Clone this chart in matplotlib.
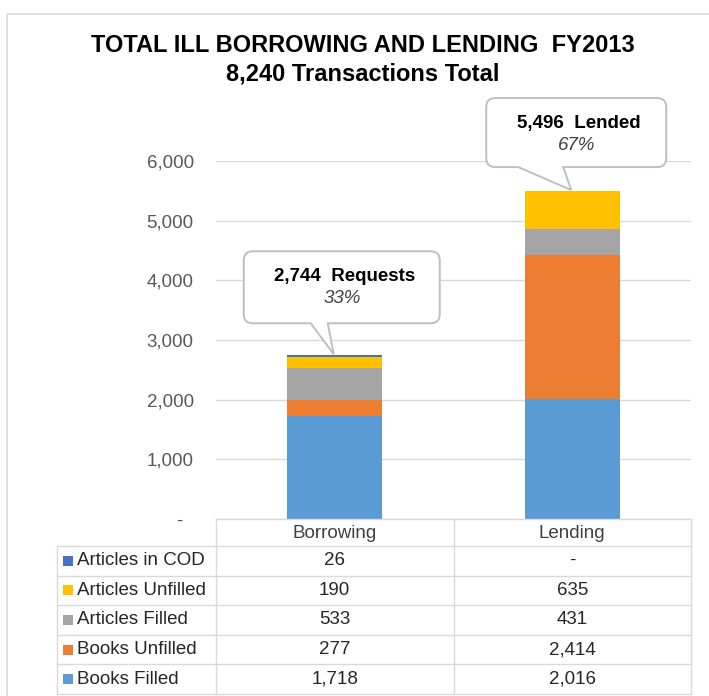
import matplotlib
matplotlib.use("Agg")
import matplotlib.pyplot as plt
from matplotlib.path import Path
from matplotlib.patches import PathPatch, Rectangle
from matplotlib.lines import Line2D
from matplotlib.ticker import FuncFormatter

# ---- data ----
categories = ["Borrowing", "Lending"]
series_names = ["Books Filled", "Books Unfilled", "Articles Filled",
                "Articles Unfilled", "Articles in COD"]
books_filled = [1718, 2016]
books_unfilled = [277, 2414]
articles_filled = [533, 431]
articles_unfilled = [190, 635]
articles_cod = [26, 0]
series_colors = ["#5B9BD5", "#ED7D31", "#A5A5A5", "#FFC000", "#4472C4"]
callout_words = ["Requests", "Lended"]
y_ticks = [0, 1000, 2000, 3000, 4000, 5000, 6000]
title_text = "TOTAL ILL BORROWING AND LENDING  FY2013"

series_values = [books_filled, books_unfilled, articles_filled,
                 articles_unfilled, articles_cod]
totals = [sum(s[i] for s in series_values) for i in range(len(categories))]
grand_total = sum(totals)

plt.rcParams["font.family"] = ["Liberation Sans", "DejaVu Sans"]

W, H = 709, 696
fig = plt.figure(figsize=(W / 100, H / 100), dpi=100)
fig.patch.set_facecolor("white")


def fx(px):
    return px / W


def fy(py):
    return 1 - py / H


# ---- plot area ----
ax = fig.add_axes([fx(216), fy(519), fx(691) - fx(216), fy(161) - fy(519)])
ax.set_xlim(-0.5, len(categories) - 0.5)
ax.set_ylim(0, 6000)
xs = list(range(len(categories)))
bottom = [0] * len(categories)
for vals, col in zip(series_values, series_colors):
    ax.bar(xs, vals, width=0.4, bottom=bottom, color=col, edgecolor="none",
           zorder=3)
    bottom = [b + v for b, v in zip(bottom, vals)]

ax.set_yticks(y_ticks)
ax.yaxis.set_major_formatter(
    FuncFormatter(lambda v, p: "-  " if v == 0 else f"{int(v):,}"))
ax.yaxis.grid(True, color="#D9D9D9", lw=1)
ax.set_axisbelow(True)
ax.set_xticks([])
ax.tick_params(axis="y", length=0, pad=16, labelsize=13.5,
               labelcolor="#595959")
for s in ax.spines.values():
    s.set_visible(False)

# ---- overlay in pixel coordinates (y downward) ----
ov = fig.add_axes([0, 0, 1, 1])
ov.set_xlim(0, W)
ov.set_ylim(H, 0)
ov.axis("off")

# outer frame
ov.add_patch(Rectangle((7, 14), W + 20, H + 20, fill=False,
                       edgecolor="#D9D9D9", lw=1.2, clip_on=False))

# title
ov.text(363, 46, title_text, ha="center", va="center", fontsize=17,
        fontweight="bold", color="black")
ov.text(363, 74, f"{grand_total:,} Transactions Total", ha="center",
        va="center", fontsize=17, fontweight="bold", color="black")


def to_px(x, y):
    dx, dy = ax.transData.transform((x, y))
    return dx, H - dy


# ---- data table ----
grid_col = "#D9D9D9"
col_edges = [to_px(v, 0)[0] for v in (-0.5, 0.5, 1.5)]
tab_left = 57
header_top, header_bot = 519, 546
row_h = (694 - header_bot) / 5


def hline(y, x0, x1):
    ov.add_line(Line2D([x0, x1], [y, y], color=grid_col, lw=1))


def vline(x, y0, y1):
    ov.add_line(Line2D([x, x], [y0, y1], color=grid_col, lw=1))


hline(header_top, col_edges[0], col_edges[-1])
for xe in col_edges:
    vline(xe, header_top, 694)
vline(tab_left, header_bot, 694)
for i in range(6):
    hline(header_bot + i * row_h, tab_left, col_edges[-1])

for i, cat in enumerate(categories):
    cx = (col_edges[i] + col_edges[i + 1]) / 2
    ov.text(cx, (header_top + header_bot) / 2 + 1, cat, ha="center",
            va="center", fontsize=13.5, color="#404040")

rows = list(zip(series_names, series_values, series_colors))[::-1]
for r, (name, vals, col) in enumerate(rows):
    cy = header_bot + (r + 0.5) * row_h
    ov.add_patch(Rectangle((63, cy - 5), 10, 10, facecolor=col,
                           edgecolor="none"))
    ov.text(77, cy, name, ha="left", va="center", fontsize=13.5,
            color="#262626")
    for i, v in enumerate(vals):
        cx = (col_edges[i] + col_edges[i + 1]) / 2
        ov.text(cx, cy, f"{v:,}" if v else "-", ha="center", va="center",
                fontsize=13.5, color="#262626")


# ---- callouts ----
def callout(tip, left, right, top, bot, tl, tr, r=9):
    verts = [(left + r, top), (right - r, top),
             (right, top), (right, top + r),
             (right, bot - r),
             (right, bot), (right - r, bot),
             (tr, bot), tip, (tl, bot),
             (left + r, bot),
             (left, bot), (left, bot - r),
             (left, top + r),
             (left, top), (left + r, top),
             (left + r, top)]
    codes = [Path.MOVETO, Path.LINETO,
             Path.CURVE3, Path.CURVE3,
             Path.LINETO,
             Path.CURVE3, Path.CURVE3,
             Path.LINETO, Path.LINETO, Path.LINETO,
             Path.LINETO,
             Path.CURVE3, Path.CURVE3,
             Path.LINETO,
             Path.CURVE3, Path.CURVE3,
             Path.CLOSEPOLY]
    ov.add_patch(PathPatch(Path(verts, codes), facecolor="white",
                           edgecolor="#BFBFBF", lw=1.4, zorder=5))


# box geometry relative to the tip: left, right, top, bottom, tail left, tail right
callout_geom = [(-90, 106, -103, -31, -23, -6),
                (-85, 95, -92, -23, -53, -8)]
for i, (g, word) in enumerate(zip(callout_geom, callout_words)):
    tx, ty = to_px(xs[i], totals[i])
    tx -= 1
    ty -= 1
    left, right, top, bot = tx + g[0], tx + g[1], ty + g[2], ty + g[3]
    callout((tx, ty), left, right, top, bot, tx + g[4], tx + g[5])
    cx = (left + right) / 2
    ov.text(cx + 3, top + 25, f"{totals[i]:,}  {word}", ha="center",
            va="center", fontsize=13.5, fontweight="bold", color="black",
            zorder=6)
    ov.text(cx, top + 47, f"{totals[i] / grand_total:.0%}", ha="center",
            va="center", fontsize=13.5, fontstyle="italic", color="#404040",
            zorder=6)

fig.savefig("out.png", dpi=100, facecolor="white")
